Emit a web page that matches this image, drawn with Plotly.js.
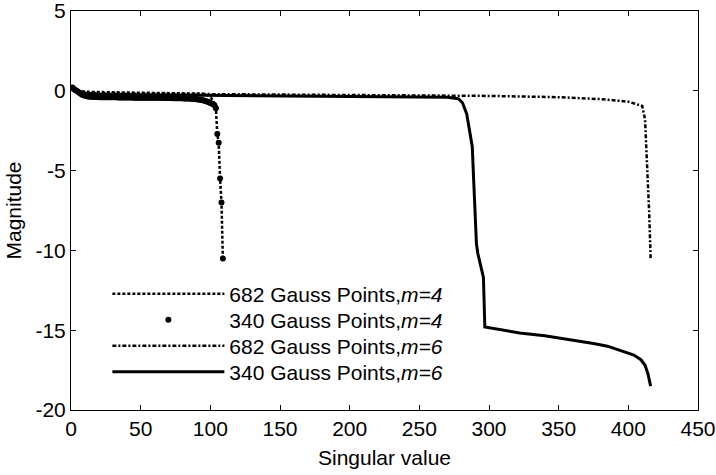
<!DOCTYPE html>
<html>
<head>
<meta charset="utf-8">
<script src="https://cdn.plot.ly/plotly-3.0.1.min.js"></script>
<style>html,body{margin:0;padding:0;background:#fff;}#chart{width:716px;height:475px;}</style>
</head>
<body>
<div id="chart"></div>
<script>
// Series names (legend labels)
var names = [
  '682 Gauss Points,<i>m=4</i>',
  '340 Gauss Points,<i>m=4</i>',
  '682 Gauss Points,<i>m=6</i>',
  '340 Gauss Points,<i>m=6</i>'
];

// 682 Gauss Points, m=4 (dotted line)
var g682m4_x = [1, 3, 5, 8, 12, 20, 40, 60, 80, 90, 95, 99, 101, 103, 104, 105, 106, 107, 108, 109];
var g682m4_y = [0.2, 0.12, 0.05, -0.02, -0.06, -0.08, -0.1, -0.1, -0.12, -0.14, -0.18, -0.3, -0.5, -0.8, -1.1, -2.7, -3.25, -5.5, -7.0, -10.5];

// 340 Gauss Points, m=4 (dot markers, one per singular value)
var g340m4_y = [
  0.2, 0.12, 0.05, 0.0, -0.06, -0.12, -0.18, -0.24, -0.28, -0.31,
  -0.33, -0.35, -0.36, -0.37, -0.38, -0.38, -0.39, -0.39, -0.39, -0.4,
  -0.4, -0.4, -0.4, -0.4, -0.41, -0.41, -0.41, -0.41, -0.41, -0.41,
  -0.41, -0.41, -0.41, -0.42, -0.42, -0.42, -0.42, -0.42, -0.42, -0.42,
  -0.42, -0.42, -0.42, -0.42, -0.43, -0.43, -0.43, -0.43, -0.43, -0.43,
  -0.43, -0.43, -0.43, -0.43, -0.43, -0.43, -0.44, -0.44, -0.44, -0.44,
  -0.44, -0.44, -0.44, -0.44, -0.44, -0.45, -0.45, -0.45, -0.45, -0.45,
  -0.45, -0.45, -0.46, -0.46, -0.46, -0.46, -0.46, -0.47, -0.47, -0.47,
  -0.48, -0.48, -0.48, -0.49, -0.49, -0.5, -0.5, -0.51, -0.52, -0.53,
  -0.54, -0.55, -0.56, -0.58, -0.6, -0.62, -0.65, -0.68, -0.72, -0.76,
  -0.8, -0.85, -0.9, -1.1, -2.7, -3.25, -5.5, -7.0, -10.5
];
var g340m4_x = g340m4_y.map(function (v, i) { return i + 1; });

// 682 Gauss Points, m=6 (dash-dot line)
var g682m6_x = [1, 5, 10, 20, 50, 100, 150, 200, 250, 300, 350, 380, 400, 410, 412, 413, 414, 415, 416];
var g682m6_y = [0.15, 0.0, -0.1, -0.15, -0.18, -0.2, -0.22, -0.25, -0.28, -0.32, -0.4, -0.52, -0.68, -0.95, -1.8, -3.5, -5.5, -7.7, -10.5];

// 340 Gauss Points, m=6 (solid line)
var g340m6_x = [1, 3, 6, 10, 20, 50, 100, 150, 200, 250, 270, 278, 281, 284, 286, 288, 289, 290, 291, 292, 294, 296, 297, 310, 322, 340, 351, 365, 375, 385, 392, 400, 404, 409, 412, 414, 416];
var g340m6_y = [0.2, 0.1, -0.05, -0.15, -0.2, -0.25, -0.28, -0.3, -0.32, -0.35, -0.4, -0.5, -0.75, -1.45, -2.5, -3.5, -5.6, -8.0, -9.6, -10.2, -11.0, -11.7, -14.8, -15.0, -15.17, -15.35, -15.5, -15.67, -15.83, -16.0, -16.2, -16.4, -16.56, -16.85, -17.2, -17.7, -18.5];

// Axis ticks
var xTicks = [0, 50, 100, 150, 200, 250, 300, 350, 400, 450];
var yTicks = [5, 0, -5, -10, -15, -20];

var font = {family: 'Liberation Sans, Arial, sans-serif', size: 21, color: '#000'};

var traces = [
  {x: g682m4_x, y: g682m4_y, name: names[0], mode: 'lines', type: 'scatter', legend: 'legend',
   line: {color: '#000', width: 2.5, dash: '3px,2px'}},
  {x: g340m4_x, y: g340m4_y, name: names[1], mode: 'markers', type: 'scatter', legend: 'legend2',
   marker: {color: '#000', size: 6}},
  {x: g682m6_x, y: g682m6_y, name: names[2], mode: 'lines', type: 'scatter', legend: 'legend3',
   line: {color: '#000', width: 2.5, dash: '4px,2px,2px,2px'}},
  {x: g340m6_x, y: g340m6_y, name: names[3], mode: 'lines', type: 'scatter', legend: 'legend4',
   line: {color: '#000', width: 3}}
];

var axisCommon = {
  showline: true, linecolor: '#000', linewidth: 1, mirror: 'ticks',
  ticks: 'inside', ticklen: 5, tickwidth: 1, tickcolor: '#000',
  showgrid: false, zeroline: false, tickfont: font, ticklabeloverflow: 'allow'
};

function legendAt(yc) {
  return {x: 0.058, y: yc, xanchor: 'left', yanchor: 'middle', bgcolor: 'rgba(0,0,0,0)',
          font: font, itemwidth: 112};
}

var layout = {
  width: 716, height: 475,
  margin: {l: 71, r: 18, t: 11, b: 65},
  paper_bgcolor: '#fff', plot_bgcolor: '#fff',
  font: font,
  showlegend: true,
  legend: legendAt(0.2907),
  legend2: legendAt(0.2256),
  legend3: legendAt(0.1604),
  legend4: legendAt(0.0952),
  xaxis: Object.assign({}, axisCommon, {
    range: [0, 450], tickvals: xTicks, ticktext: xTicks.map(String),
    title: {text: 'Singular value', font: font, standoff: 11}
  }),
  yaxis: Object.assign({}, axisCommon, {
    range: [-20, 5], tickvals: yTicks, ticktext: yTicks.map(String),
    title: {text: 'Magnitude', font: font, standoff: 8}
  })
};

Plotly.newPlot('chart', traces, layout, {staticPlot: true, displayModeBar: false});
</script>
</body>
</html>
